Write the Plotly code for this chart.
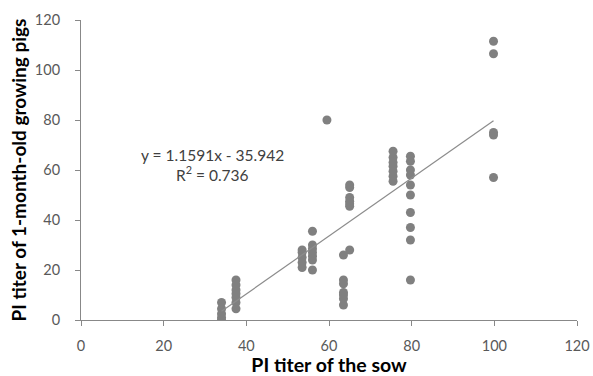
import plotly.graph_objects as go

# Sow PI titer (x) and growing pig PI titer (y)
sow_titer = (
    [34] * 5 + [37.5] * 7 + [53.5] * 5 + [56] * 7 + [59.5]
    + [63.5] * 7 + [65] * 7 + [75.5] * 7 + [79.7] * 10 + [99.8] * 5
)
pig_titer = (
    [0, 1, 2.5, 4.5, 7]
    + [4.5, 7, 9, 10.5, 12, 14, 16]
    + [21, 23, 25, 27, 28]
    + [20, 24, 25.5, 27, 28.5, 30, 35.5]
    + [80]
    + [6, 8.5, 10, 11, 14.5, 16, 26]
    + [28, 45.5, 46.5, 47.5, 49, 53, 54]
    + [55.5, 57.5, 59.5, 61.5, 63, 65, 67.5]
    + [16, 32, 37, 43, 50, 54, 58, 60, 63.5, 65.5]
    + [57, 74, 75, 106.5, 111.5]
)
slope = 1.1591
intercept = -35.942
x_ticks = [0, 20, 40, 60, 80, 100, 120]
y_ticks = [0, 20, 40, 60, 80, 100, 120]

fit_x = [min(sow_titer), max(sow_titer)]
fit_y = [slope * v + intercept for v in fit_x]

font_family = "Lato, Liberation Sans, sans-serif"
axis_color = "#888888"

fig = go.Figure()
fig.add_trace(go.Scatter(
    x=sow_titer, y=pig_titer, mode="markers",
    marker=dict(color="#808080", size=9, line=dict(width=0)),
    showlegend=False, hoverinfo="skip",
))
fig.add_trace(go.Scatter(
    x=fit_x, y=fit_y, mode="lines",
    line=dict(color="#8c8c8c", width=1.2),
    showlegend=False, hoverinfo="skip",
))

fig.add_annotation(x=31.7, y=66, text="y = 1.1591x - 35.942", showarrow=False,
                   font=dict(family=font_family, size=15.5, color="#404040"))
fig.add_annotation(x=31.7, y=58.8, text="R<sup>2</sup> = 0.736", showarrow=False,
                   font=dict(family=font_family, size=15.5, color="#404040"))

axis_common = dict(
    showgrid=False, zeroline=False, showline=True, linecolor=axis_color, linewidth=1,
    ticks="outside", tickcolor=axis_color, ticklen=5, tickwidth=1,
    tickfont=dict(family=font_family, size=14.5, color="#595959"),
    automargin=False,
)
fig.update_xaxes(range=[0, 120], tickvals=x_ticks, ticklabelstandoff=8,
                 title=dict(text="<b>PI titer of the sow</b>",
                            font=dict(family=font_family, size=19.5, color="#000000"),
                            standoff=6),
                 **axis_common)
fig.update_yaxes(range=[0, 120], tickvals=y_ticks, ticklabelstandoff=12,
                 title=dict(text="<b>PI titer of 1-month-old growing pigs</b>",
                            font=dict(family=font_family, size=19, color="#000000"),
                            standoff=3),
                 **axis_common)

fig.update_layout(
    width=593, height=376,
    margin=dict(l=81, r=16, t=20, b=56),
    plot_bgcolor="white", paper_bgcolor="white",
)
fig.write_html(
    "out.html",
    config={"displayModeBar": False, "staticPlot": True},
    post_script="document.body.style.margin='0';document.body.style.overflow='hidden';",
)
